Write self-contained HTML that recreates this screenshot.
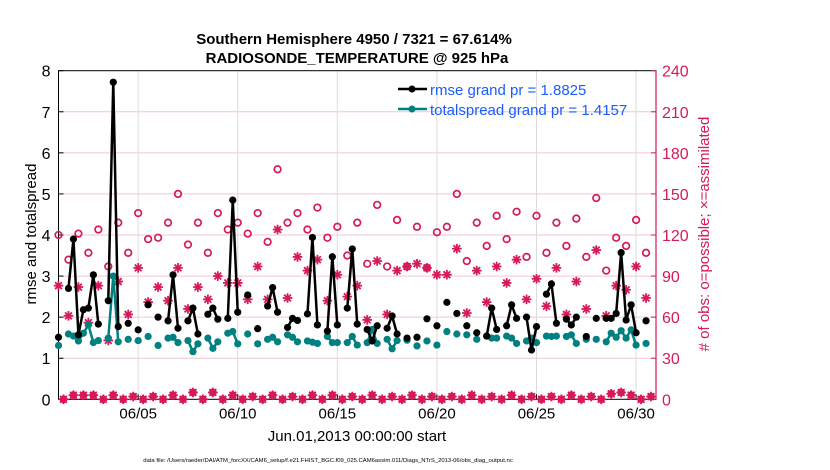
<!DOCTYPE html>
<html><head><meta charset="utf-8"><style>
body{margin:0;background:#fff;}
svg{display:block;font-family:"Liberation Sans",sans-serif;}
</style></head><body>
<svg id="chart" width="830" height="470">
<text x="354" y="44" text-anchor="middle" font-size="15" font-weight="bold">Southern Hemisphere 4950 / 7321 = 67.614%</text>
<text x="357" y="63" text-anchor="middle" font-size="15" font-weight="bold">RADIOSONDE_TEMPERATURE @ 925 hPa</text>
<g id="grid"></g>
<g id="axes"></g>
<g id="marks"></g>
<text transform="translate(36,234) rotate(-90)" text-anchor="middle" font-size="15">rmse and totalspread</text>
<text transform="translate(709,234) rotate(-90)" text-anchor="middle" font-size="15" fill="#d6195a"># of obs: o=possible; ×=assimilated</text>
<text x="357" y="441" text-anchor="middle" font-size="15">Jun.01,2013 00:00:00 start</text>
<text x="328" y="462" text-anchor="middle" font-size="5.9">data file: /Users/raeder/DAI/ATM_forcXX/CAM6_setup/f.e21.FHIST_BGC.f09_025.CAM6assim.011/Diags_NTrS_2013-06/obs_diag_output.nc</text>
<g>
<line x1="398" y1="89" x2="427" y2="89" stroke="#000" stroke-width="2.5"/><circle cx="412" cy="89" r="3.5" fill="#000"/>
<text x="430" y="95" font-size="15" fill="#1a5cff">rmse grand pr = 1.8825</text>
<line x1="398" y1="109" x2="427" y2="109" stroke="#008080" stroke-width="2.5"/><circle cx="412" cy="109" r="3.5" fill="#008080"/>
<text x="430" y="115" font-size="15" fill="#1a5cff">totalspread grand pr = 1.4157</text>
</g>
</svg>
<script>
// 6-hourly index (0..119) → data
const rmseIdx=[0,2,3,4,5,6,7,8,10,11,12,14,16,18,20,22,23,24,26,27,28,30,31,32,34,35,36,38,40,42,43,44,46,47,48,50,51,52,54,55,56,58,59,60,62,63,64,66,67,68,70,72,74,76,78,80,82,84,86,87,88,90,91,92,94,95,96,98,99,100,102,103,104,106,108,110,111,112,113,114,115,116,118];
const rmseVals=[1.51,2.70,3.90,1.57,2.18,2.22,3.03,1.83,2.40,7.72,1.77,1.85,1.69,2.30,2.0,1.91,3.03,1.73,1.91,2.22,1.59,2.07,2.22,1.95,1.97,4.85,2.12,2.54,1.72,2.27,2.72,2.12,1.75,1.97,1.92,2.08,3.94,1.81,1.66,3.47,1.81,2.22,3.66,1.83,1.70,1.42,1.79,1.73,2.03,1.59,1.49,1.51,1.96,1.79,2.36,2.09,1.79,1.62,1.54,2.22,1.70,1.79,2.30,1.97,2.0,1.20,1.77,2.56,2.81,1.85,1.95,1.81,2.0,1.53,1.97,1.97,1.97,2.09,3.57,1.93,2.30,1.62,1.91];
const spreadVals=[1.31,1.59,1.54,1.42,1.61,1.81,1.38,1.43,1.49,3.0,1.40,1.46,1.43,1.53,1.31,1.49,1.51,1.38,1.43,1.16,1.35,1.49,1.24,1.40,1.61,1.65,1.35,1.59,1.35,1.46,1.51,1.40,1.57,1.51,1.40,1.42,1.39,1.36,1.53,1.38,1.38,1.38,1.53,1.32,1.38,1.70,1.36,1.46,1.23,1.43,1.44,1.30,1.42,1.32,1.65,1.59,1.57,1.46,1.54,1.49,1.49,1.54,1.49,1.36,1.42,1.49,1.38,1.54,1.53,1.54,1.53,1.57,1.36,1.46,1.46,1.40,1.61,1.51,1.67,1.49,1.69,1.32,1.36];
// obs counts at even 6-hourly indices 0,2,...,118
const possibleVals=[120,102,121,107,124,97,129,107,136,117,118,129,150,113,129,107,136,124,129,121,136,115,168,129,136,124,140,118,126,105,129,99,142,97,131,97,126,96,122,126,150,101,129,112,134,117,137,104,134,107,129,112,132,104,147,94,118,112,131,107];
const assimVals=[83,61,82,56,83,43,86,62,96,71,82,72,96,66,82,73,90,85,85,73,97,73,124,74,104,94,102,72,91,75,83,58,101,62,94,97,99,96,91,91,110,63,94,71,97,85,102,73,88,68,96,62,86,66,109,61,83,80,97,74];
// obs counts at odd indices 1,3,...,119
const offVals=[0,3,3,3,0,3,0,2,0,2,0,3,0,5,0,5,0,3,0,2,0,3,0,2,0,3,0,3,0,2,0,3,0,2,0,3,0,2,0,2,0,3,0,2,0,3,0,2,0,2,0,3,0,2,0,4,5,3,0,2];
const xTickDays=[4,9,14,19,24,29];
const xTickLabels=["06/05","06/10","06/15","06/20","06/25","06/30"];
const yTicks=[0,1,2,3,4,5,6,7,8];
const y2Ticks=[0,30,60,90,120,150,180,210,240];

const X0=58.5,X1=656,Y0=399.3,Y1=70.7,NS="http://www.w3.org/2000/svg";
const xi=i=>X0+(X1-X0)*i/120;
const xd=d=>xi(d*4);
const yl=v=>Y0-(Y0-Y1)*v/8;
const yr=v=>Y0-(Y0-Y1)*v/240;
function mk(tag,attrs,parent){const e=document.createElementNS(NS,tag);for(const k in attrs)e.setAttribute(k,attrs[k]);parent.appendChild(e);return e;}
const grid=document.getElementById('grid'),axes=document.getElementById('axes'),marks=document.getElementById('marks');
y2Ticks.forEach((t,k)=>{if(k===0||k===y2Ticks.length-1)return;const l=mk('line',{x1:X0,x2:X1,y1:yr(t),y2:yr(t),stroke:'#f2c6d6','stroke-width':1},grid);

});
xTickDays.forEach(d=>{const l=mk('line',{x1:xd(d),x2:xd(d),y1:Y1,y2:Y0,stroke:'#dcdcdc','stroke-width':1},grid);

});
mk('rect',{x:X0,y:Y1,width:X1-X0,height:Y0-Y1,fill:'none',stroke:'#000','stroke-width':1},axes);
mk('line',{x1:X1,x2:X1,y1:Y1,y2:Y0,stroke:'#d6195a','stroke-width':1.2},axes);
yTicks.forEach(t=>{mk('line',{x1:X0,x2:X0+5,y1:yl(t),y2:yl(t),stroke:'#000'},axes);
const tx=mk('text',{x:X0-8,y:yl(t)+6,'text-anchor':'end','font-size':16},axes);tx.textContent=t;

});
y2Ticks.forEach(t=>{mk('line',{x1:X1-5,x2:X1,y1:yr(t),y2:yr(t),stroke:'#d6195a'},axes);
const tx=mk('text',{x:X1+6,y:yr(t)+6,'font-size':16,fill:'#d6195a'},axes);tx.textContent=t;

});
xTickDays.forEach((d,k)=>{mk('line',{x1:xd(d),x2:xd(d),y1:Y0,y2:Y0-5,stroke:'#000'},axes);
const tx=mk('text',{x:xd(d),y:Y0+19,'text-anchor':'middle','font-size':15},axes);tx.textContent=xTickLabels[k];

});

function star(cx,cy,parent){const g=mk('g',{stroke:'#d6195a','stroke-width':1.8},parent);const r=4.8,d=3.4;
mk('line',{x1:cx-r,x2:cx+r,y1:cy,y2:cy},g);mk('line',{x1:cx,x2:cx,y1:cy-r,y2:cy+r},g);
mk('line',{x1:cx-d,x2:cx+d,y1:cy-d,y2:cy+d},g);mk('line',{x1:cx-d,x2:cx+d,y1:cy+d,y2:cy-d},g);return g;}
possibleVals.forEach((v,k)=>{const c=mk('circle',{cx:xi(2*k),cy:yr(v),r:3.3,fill:'none',stroke:'#d6195a','stroke-width':1.7},marks);

});
assimVals.forEach((v,k)=>{const g=star(xi(2*k),yr(v),marks);

});
offVals.forEach((v,k)=>{const c=mk('circle',{cx:xi(2*k+1),cy:yr(v),r:3.3,fill:'#d6195a',stroke:'#d6195a'},marks);


const g=star(xi(2*k+1),yr(v),marks);

});
function series(vals,color,name){
let seg=[];const segs=[];
rmseIdx.forEach((i,k)=>{if(k>0&&i!==rmseIdx[k-1]+1){segs.push(seg);seg=[];}seg.push([xi(i),yl(vals[k])]);});segs.push(seg);
segs.forEach(s=>{if(s.length>1){const p=mk('polyline',{points:s.map(q=>q.join(',')).join(' '),fill:'none',stroke:color,'stroke-width':2.5},marks);

}});
rmseIdx.forEach((i,k)=>{const c=mk('circle',{cx:xi(i),cy:yl(vals[k]),r:3.6,fill:color},marks);

});}
series(spreadVals,'#008080','totalspread');
series(rmseVals,'#000000','rmse');
</script>
</body></html>
